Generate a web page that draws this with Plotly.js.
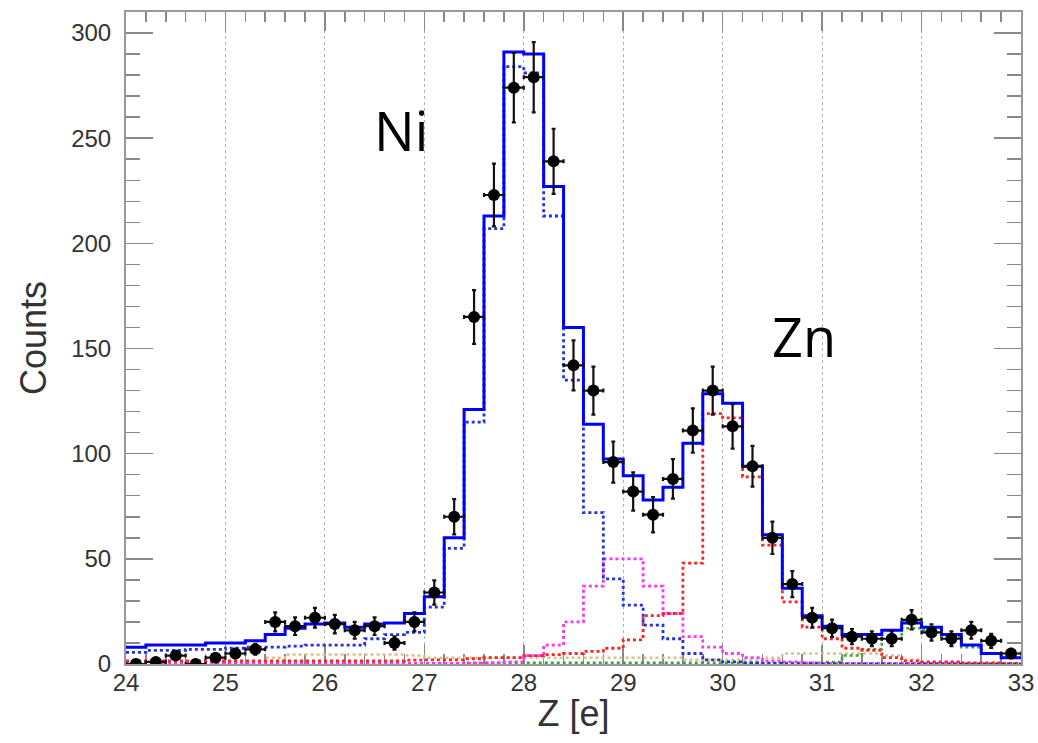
<!DOCTYPE html>
<html>
<head>
<meta charset="utf-8">
<script src="https://cdn.plot.ly/plotly-3.0.1.min.js"></script>
<style>html,body{margin:0;padding:0;background:#fff;}#chart{width:1038px;height:743px;}</style>
</head>
<body>
<div id="chart"></div>
<script>
// Binning (45 bins of width 0.2 from Z=24 to Z=33)
const binLow = 24.0;
const binWidth = 0.2;
const nBins = 45;

// Data points (black, counts per bin) and their errors
const dataCounts = [0,1,4,0,3,5,7,20,18,22, 19,16,18,10,20,34,70,165,223,274, 279,239,142,130,96,82,71,88,111,130, 113,94,60,38,22,17,13,12,12,21, 15,12,16,11,5];
const dataErr = [0,1,2,0,1.7,2.2,2.6,4.5,4.2,4.7, 4.4,4,4.2,3.2,4.5,5.8,8.4,12.8,14.9,16.5, 16.7,15.5,11.9,11.4,9.8,9.1,8.4,9.4,10.5,11.4, 10.6,9.7,7.7,6.2,4.7,4.1,3.6,3.5,3.5,4.6, 3.9,3.5,4,3.3,2.2];

// Total fit (blue solid)
const totalFit = [8,9,9,9,10,10,11,14,17,19, 19.5,17.5,19,19.5,24,32,60,121,213,291, 290,227,160,114,97.5,89.5,78,84,105,128.5, 124,94,61.5,36,23,18,14,14,16,19.5, 17.5,14,9,5,3];
// Ni component (blue dotted)
const niComp = [5.5,6.5,6.5,7,7,7.5,8,8,8.5,9, 9,9,12,14,15,27,55,115,207,284, 281,213,135,72,40.5,28,18.5,12,5,2, 1,0.5,0.3,0,0,0,0,0,0,0, 0,0,0,0,0];
// Cu component (magenta dotted)
const cuComp = [0.3,0.3,0.3,0.3,0.3,0.3,0.3,0.3,0.3,0.3, 0.3,0.3,0.3,0.3,0.3,0.3,0.3,0.3,0.5,1, 4,9,20,37,50,50,37,24,13,8, 5,3,1.5,1,0.5,0.3,0.3,0.3,0.3,0.3, 0.3,0.3,0.3,0.3,0.3];
// Zn component (red dotted)
const znComp = [1.5,1.5,1.5,1.5,1.5,1.5,1.5,1.5,1.5,1.5, 1.5,1.5,1.5,1.5,1.8,2,2,2.5,3,3, 4,4.5,5,6,7.5,11.5,23,24,48,119, 117,89,56.5,29.5,17.5,12,7.5,6.5,3,1.5, 1,1,0.5,0.5,0.3];
// Ga component (tan dotted)
const gaComp = [1,1,1,1,1,1,1,3,4.5,4.5, 4.5,4.5,4.5,4.5,4,3,3,3,3,3, 3,3,3,3,3,3,3,3,2,2, 2,2,3,5,5,5,5,5,4,2, 1,1,0.5,0.5,0.3];
// Ge component (green dotted)
const geComp = [0,0,0,0,0,0,0,0,0,0, 0,0,0,0,0,0,0,0.6,0.6,0.6, 0.6,0.6,0.6,0.6,0.6,0.6,0.6,0.6,0.6,0.6, 0.6,0.6,0.6,0.6,0.6,1,4,7,12,17, 16,13,8,5,3];

const xTickVals = [24,25,26,27,28,29,30,31,32,33];
const yTickVals = [0,50,100,150,200,250,300];

// derived bin geometry
const edges = [];
for (let i = 0; i <= nBins; i++) edges.push(+(binLow + i * binWidth).toFixed(3));
const centers = [];
for (let i = 0; i < nBins; i++) centers.push(+(binLow + (i + 0.5) * binWidth).toFixed(3));

function stepTrace(vals, color, dash, width) {
  return {
    x: edges,
    y: vals.concat([vals[vals.length - 1]]),
    type: 'scatter', mode: 'lines', cliponaxis: false,
    line: {shape: 'hv', color: color, dash: dash, width: width},
    hoverinfo: 'skip', showlegend: false
  };
}

const traces = [
  stepTrace(gaComp, '#dcc08c', 'dot', 2.5),
  stepTrace(geComp, '#3aa63a', 'dot', 2.5),
  stepTrace(cuComp, '#ff33ff', 'dot', 2.8),
  stepTrace(znComp, '#ff2222', 'dot', 2.8),
  stepTrace(niComp, '#2233dd', 'dot', 2.8),
  stepTrace(totalFit, '#0000ff', 'solid', 3),
  {
    x: centers, y: dataCounts, type: 'scatter', mode: 'markers',
    marker: {color: '#000', size: 12, symbol: 'circle'},
    error_y: {type: 'data', array: dataErr, visible: true, color: '#111', thickness: 2.2, width: 2},
    error_x: {type: 'constant', value: binWidth / 2, visible: true, color: '#111', thickness: 2.2, width: 2},
    showlegend: false
  }
];

const axisCommon = {
  showline: true, linecolor: '#999', linewidth: 2,
  mirror: 'ticks', ticks: 'inside', tickcolor: '#888', tickwidth: 1.5,
  tickfont: {family: 'Liberation Sans, Arial, sans-serif', size: 24, color: '#333'},
  zeroline: false, layer: 'below traces'
};

const layout = {
  width: 1038, height: 743,
  margin: {l: 126, r: 17, t: 12, b: 79},
  paper_bgcolor: '#fff', plot_bgcolor: '#fff',
  showlegend: false,
  xaxis: Object.assign({}, axisCommon, {
    range: [24, 33], tickvals: xTickVals, ticklen: 19,
    showgrid: true, gridcolor: '#b0b0b0', griddash: 'dot', gridwidth: 1,
    minor: {dtick: 0.2, ticklen: 10, ticks: 'inside', tickcolor: '#888', tickwidth: 1.5, showgrid: false},
    title: {text: 'Z [e]', font: {family: 'Liberation Sans, Arial, sans-serif', size: 36, color: '#333'}, standoff: 6},
    ticklabelstandoff: -4
  }),
  yaxis: Object.assign({}, axisCommon, {
    range: [0, 310], tickvals: yTickVals, ticklen: 27,
    showgrid: false,
    minor: {dtick: 10, ticklen: 14, ticks: 'inside', tickcolor: '#888', tickwidth: 1.5, showgrid: false},
    title: {text: 'Counts', font: {family: 'Liberation Sans, Arial, sans-serif', size: 36, color: '#333'}, standoff: 14},
    ticklabelstandoff: 8
  }),
  annotations: [
    {x: 26.77, y: 254, xref: 'x', yref: 'y', text: 'Ni', showarrow: false,
     font: {family: 'Open Sans, Noto Sans, sans-serif', size: 54, color: '#000'}},
    {x: 30.82, y: 156, xref: 'x', yref: 'y', text: 'Zn', showarrow: false,
     font: {family: 'Open Sans, Noto Sans, sans-serif', size: 54, color: '#000'}}
  ]
};

Plotly.newPlot('chart', traces, layout, {displayModeBar: false, staticPlot: true});
</script>
</body>
</html>
